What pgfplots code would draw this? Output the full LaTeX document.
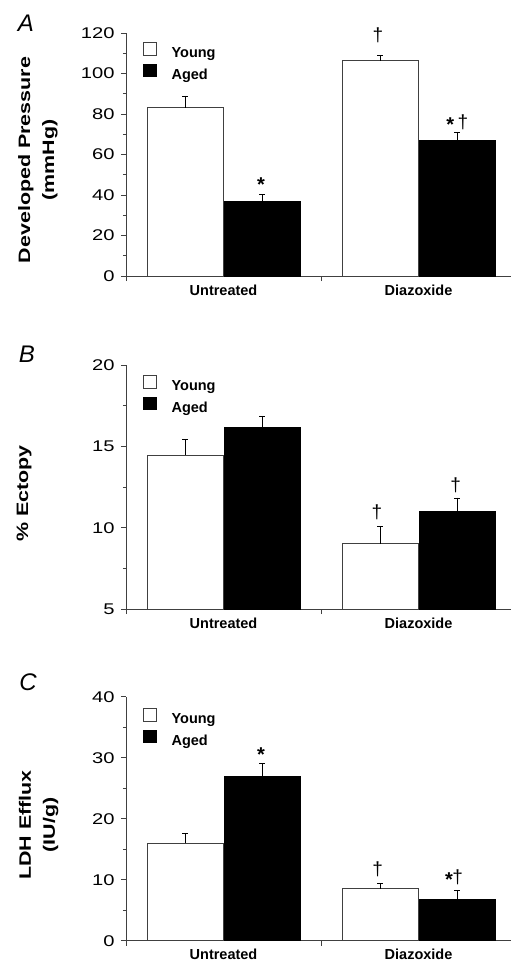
\documentclass[border=0pt]{standalone}
\usepackage{pgfplots}
\pgfplotsset{compat=1.18}
\usepackage{fontspec}
\setmainfont{Liberation Sans}

\pgfplotsset{
  panel/.style={
    scale only axis, width=385bp, anchor=south west,
    xmin=-0.5, xmax=1.474,
    axis x line*=bottom, axis y line*=left,
    axis line style={black!75, line width=1bp},
    every tick/.style={black!75, line width=1bp},
    tick align=outside,
    major tick length=5bp, minor tick length=3bp,
    xtick={-0.5,0.5}, xticklabels={},
    extra x ticks={0,1}, extra x tick labels={Untreated,Diazoxide},
    extra x tick style={major tick length=0pt,
      xticklabel style={font=\fontsize{14.5bp}{16bp}\selectfont\bfseries, yshift=-5bp}},
    /pgf/number format/assume math mode=true,
    yticklabel={\scalebox{1.3}[1]{\pgfmathprintnumber{\tick}}},
    yticklabel style={font=\fontsize{15.5bp}{17bp}\selectfont, xshift=-3bp},
    ylabel style={font=\fontsize{16.5bp}{24bp}\selectfont\bfseries, align=center, anchor=center},
    legend image code/.code={\draw[#1] (0bp,-1.5bp) rectangle (12.5bp,11bp);},
    legend style={draw=none, fill=none, inner sep=0pt, anchor=north west,
      row sep=3bp, column sep=15bp,
      nodes={inner sep=0pt, text height=11bp, text depth=3bp, font=\fontsize{14.5bp}{16bp}\selectfont\bfseries}},
    legend cell align=left,
  },
  young/.style={ybar, bar width=76bp, bar shift=0pt, fill=white, draw=black!75, line width=0.9bp,
    error bars/.cd, y dir=plus, y explicit,
    error bar style={black, line width=1bp, mark size=3bp}},
  aged/.style={ybar, bar width=76bp, bar shift=0pt, fill=black, draw=black, line width=0.9bp,
    error bars/.cd, y dir=plus, y explicit,
    error bar style={black, line width=1bp, mark size=3bp}},
}
\tikzset{
  asterisk/.style={font=\fontsize{20bp}{22bp}\selectfont\bfseries},
  dagmark/.style={font=\fontsize{19bp}{21bp}\selectfont},
}

\begin{document}
\begin{tikzpicture}
\path[use as bounding box] (0,0) rectangle (512bp,-962bp);

% Panel A
\node[font=\fontsize{24bp}{26bp}\selectfont\itshape] at (26bp,-23.5bp) {A};
\begin{axis}[panel, at={(126bp,-276bp)}, height=243bp, clip=false,
  ymin=0, ymax=120, ytick={0,20,...,120}, minor y tick num=1,
  ylabel={\scalebox{1.3}[1]{Developed Pressure}\\\scalebox{1.3}[1]{(mmHg)}},
  ylabel style={at={(axis description cs:-0.229,0.477)}},
  legend style={at={(axis description cs:0.044,0.963)}}]
\addplot[young] coordinates {(-0.1974,83) +- (0,5.9) (0.8026,106.3) +- (0,2.8)};
\addplot[aged] coordinates {(0.1974,37) +- (0,3.2) (1.1974,66.8) +- (0,4.3)};
\legend{Young,Aged}
\node[asterisk] at (axis cs:0.192,44.9) {*};
\node[dagmark] at (axis cs:0.792,118.8) {†};
\node[asterisk] at (axis cs:1.162,74.9) {*};
\node[dagmark] at (axis cs:1.228,75.8) {†};
\end{axis}

% Panel B
\node[font=\fontsize{24bp}{26bp}\selectfont\itshape] at (27bp,-354bp) {B};
\begin{axis}[panel, at={(126bp,-609bp)}, height=244bp,
  ymin=5, ymax=20, ytick={5,10,15,20}, minor y tick num=1,
  ylabel={\scalebox{1.3}[1]{\% Ectopy}},
  ylabel style={at={(axis description cs:-0.265,0.473)}},
  legend style={at={(axis description cs:0.044,0.959)}}]
\addplot[young] coordinates {(-0.1974,14.47) +- (0,0.96) (0.8026,9.0) +- (0,1.06)};
\addplot[aged] coordinates {(0.1974,16.14) +- (0,0.74) (1.1974,10.98) +- (0,0.86)};
\legend{Young,Aged}
\node[dagmark] at (axis cs:0.787,10.93) {†};
\node[dagmark] at (axis cs:1.19,12.62) {†};
\end{axis}

% Panel C
\node[font=\fontsize{24bp}{26bp}\selectfont\itshape] at (28bp,-682bp) {C};
\begin{axis}[panel, at={(126bp,-940.7bp)}, height=244bp, clip=false,
  ymin=0, ymax=40, ytick={0,10,...,40}, minor y tick num=1,
  ylabel={\scalebox{1.3}[1]{LDH Efflux}\\\scalebox{1.3}[1]{(IU/g)}},
  ylabel style={at={(axis description cs:-0.227,0.474)}},
  legend style={at={(axis description cs:0.044,0.954)}}]
\addplot[young] coordinates {(-0.1974,16) +- (0,1.6) (0.8026,8.5) +- (0,0.9)};
\addplot[aged] coordinates {(0.1974,26.9) +- (0,2.2) (1.1974,6.8) +- (0,1.4)};
\legend{Young,Aged}
\node[asterisk] at (axis cs:0.192,30.5) {*};
\node[dagmark] at (axis cs:0.79,11.75) {†};
\node[asterisk] at (axis cs:1.156,9.95) {*};
\node[dagmark] at (axis cs:1.2,10.36) {†};
\end{axis}
\end{tikzpicture}
\end{document}
